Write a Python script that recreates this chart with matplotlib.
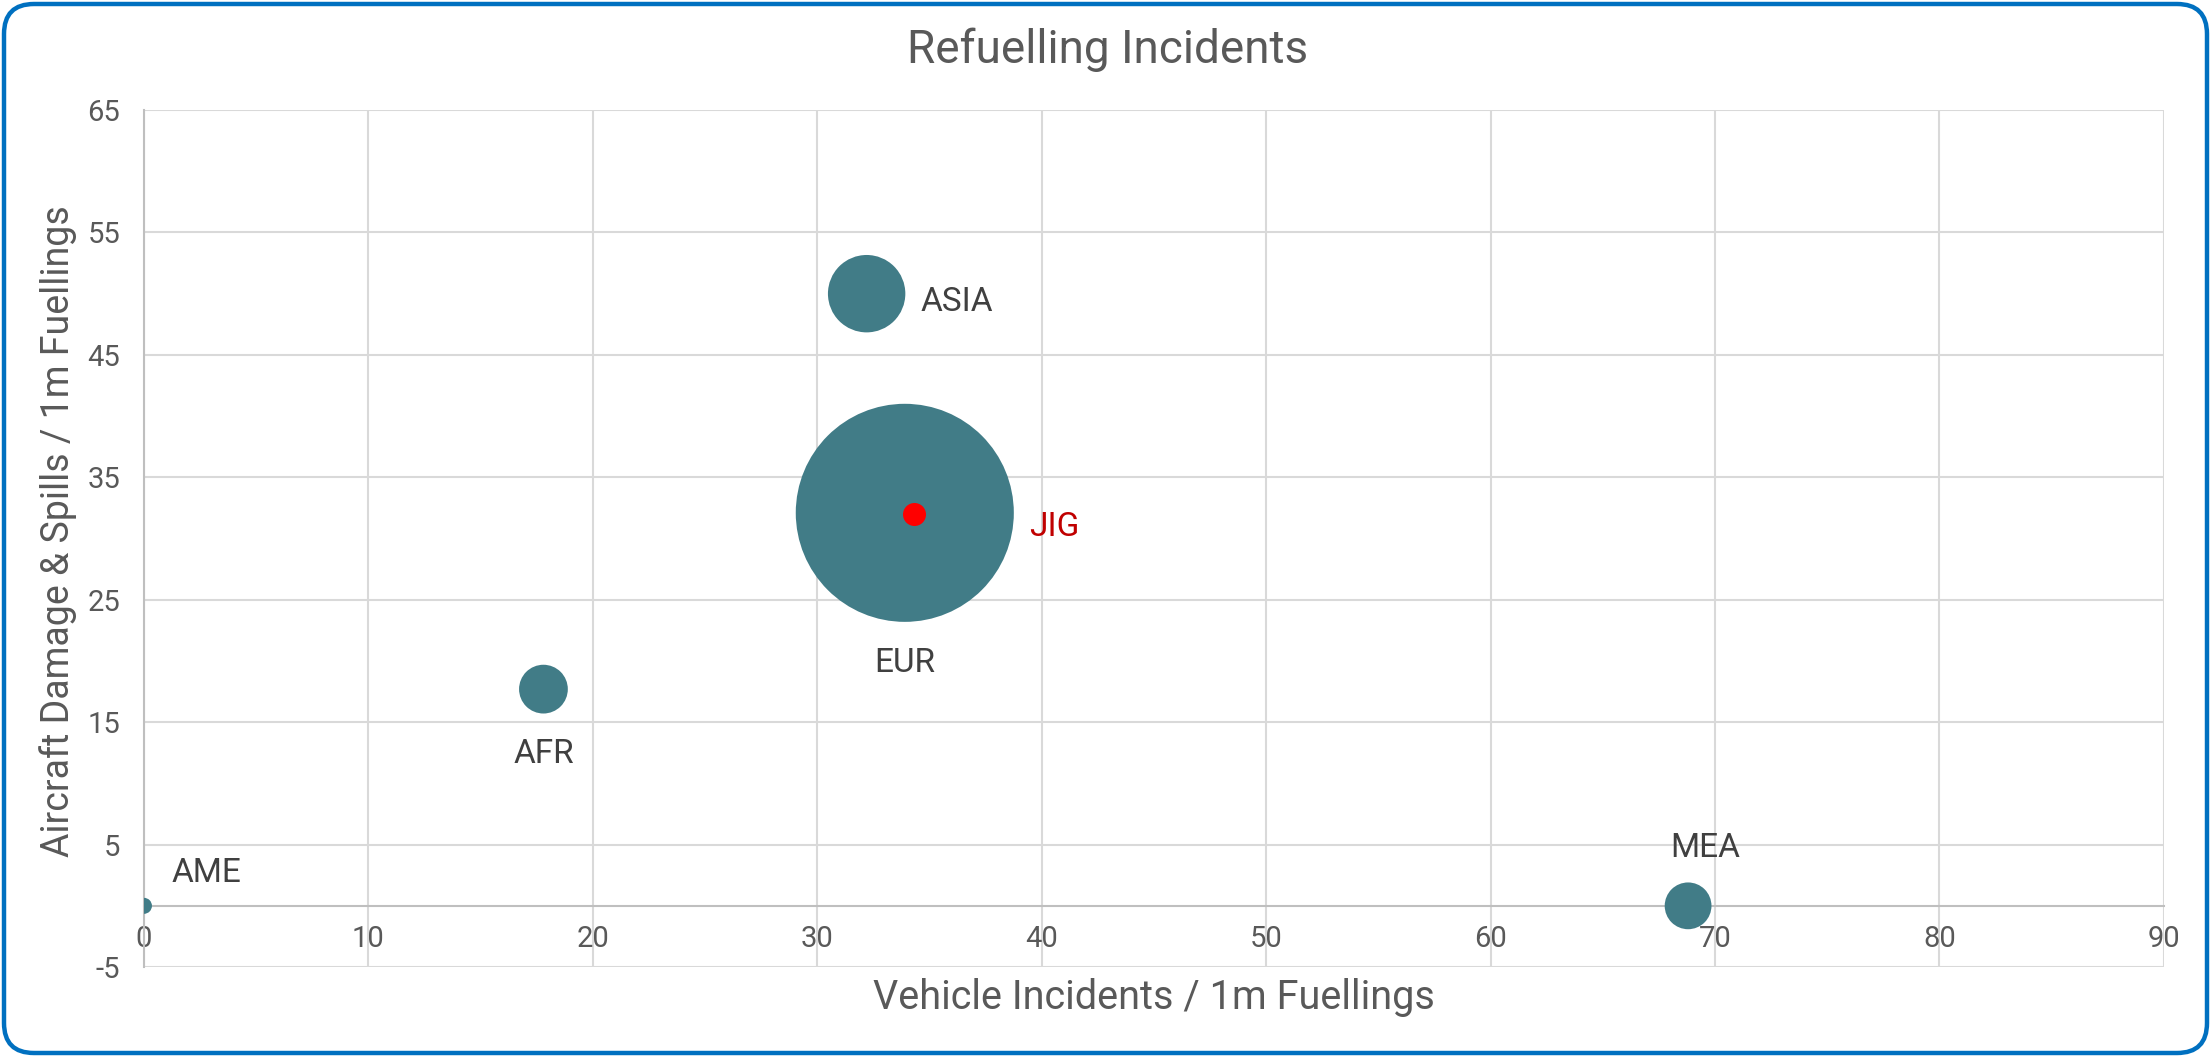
import matplotlib
matplotlib.use("Agg")
import matplotlib.pyplot as plt
from matplotlib.patches import FancyBboxPatch
from matplotlib.transforms import IdentityTransform

# regions
regions = ['AME', 'AFR', 'ASIA', 'EUR', 'MEA']
vehicle = [0.0, 17.8, 32.2, 33.9, 68.8]        # vehicle incidents / 1m fuellings
damage = [0.0, 17.7, 50.0, 32.1, 0.0]          # aircraft damage & spills / 1m fuellings
bubble = [0.54, 5.0, 12.6, 100.0, 4.6]         # relative bubble size (EUR = 100)

jig_name = 'JIG'
jig_x = [34.3]
jig_y = [32.0]

xticks = [0, 10, 20, 30, 40, 50, 60, 70, 80, 90]
yticks = [-5, 5, 15, 25, 35, 45, 55, 65]

# label offsets in points (dx, dy), and horizontal alignment
label_pos = {
    'AME': (20, 24, 'left'),
    'AFR': (0, -47, 'center'),
    'ASIA': (39, -6, 'left'),
    'EUR': (0, -108, 'center'),
    'MEA': (12, 42, 'center'),
}

teal = '#417C87'
grid_c = '#D9D9D9'
axis_c = '#BFBFBF'
text_c = '#595959'
label_c = '#404040'

plt.rcParams['font.family'] = ['Roboto', 'DejaVu Sans']
plt.rcParams['axes.unicode_minus'] = False

fig = plt.figure(figsize=(22.11, 10.57), dpi=100)
ax = fig.add_axes([0.0651, 0.0851, 0.9136, 0.8108])

max_s = 24650.0
sizes = [b / 100.0 * max_s for b in bubble]
ax.scatter(vehicle, damage, s=sizes, color=teal, linewidths=0, zorder=3)
ax.scatter(jig_x, jig_y, s=275, color='#FF0000', linewidths=0, zorder=4)

for name, x, y in zip(regions, vehicle, damage):
    dx, dy, ha = label_pos[name]
    ax.annotate(name, (x, y), xytext=(dx, dy), textcoords='offset points',
                ha=ha, va='center', fontsize=24, color=label_c, zorder=5)
ax.annotate(jig_name, (jig_x[0], jig_y[0]), xytext=(83, -9), textcoords='offset points',
            ha='left', va='center', fontsize=24, color='#C00000', zorder=5)

ax.set_xlim(0, 90)
ax.set_ylim(-5, 65)
ax.set_xticks(xticks)
ax.set_yticks(yticks)
ax.grid(True, color=grid_c, linewidth=1.5, zorder=0)
ax.set_axisbelow(True)

for s in ['top', 'right']:
    ax.spines[s].set_visible(False)
ax.spines['bottom'].set_position(('data', 0))
ax.spines['bottom'].set_color(axis_c)
ax.spines['bottom'].set_linewidth(1.5)
ax.spines['left'].set_color(axis_c)
ax.spines['left'].set_linewidth(1.5)
ax.spines['bottom'].set_zorder(1)

ax.tick_params(axis='x', length=0, pad=14, labelsize=21, labelcolor=text_c)
ax.tick_params(axis='y', length=0, pad=17, labelsize=21, labelcolor=text_c)

ax.set_xlabel('Vehicle Incidents / 1m Fuellings', fontsize=28.5, color=text_c, va='center')
ax.xaxis.set_label_coords(0.5, -0.036)
ax.set_ylabel('Aircraft Damage & Spills / 1m Fuellings', fontsize=27, color=text_c, va='center')
ax.yaxis.set_label_coords(-0.0426, 0.509)

fig.suptitle('Refuelling Incidents', x=0.501, y=0.9527, va='center',
             fontsize=33, color=text_c)

# rounded blue frame around the whole chart
frame = FancyBboxPatch((4, 4), 2203, 1049, boxstyle='round,pad=0,rounding_size=30',
                       transform=IdentityTransform(), facecolor='none',
                       edgecolor='#0070C0', linewidth=3.2)
fig.patches.append(frame)

fig.savefig('out.png', dpi=100)
